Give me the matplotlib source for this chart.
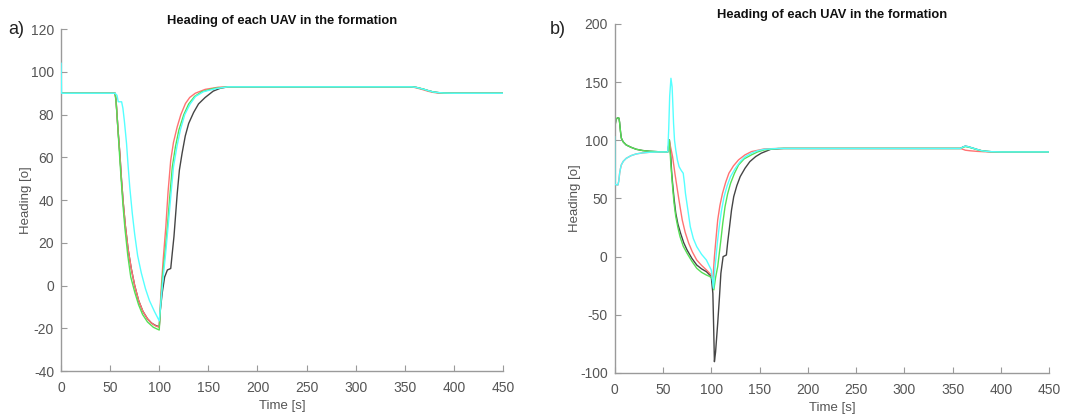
import numpy as np
import matplotlib
matplotlib.use("Agg")
import matplotlib.pyplot as plt

plt.rcParams['font.family'] = ['Liberation Sans', 'DejaVu Sans']
plt.rcParams['axes.unicode_minus'] = False

# ---- panel a) data (time [s], heading [deg])
tail_t_a = [357, 362, 369, 374, 379, 384, 389.5, 400, 450]
tail_h_a = [93, 92.7, 91.9, 91.2, 90.6, 90.3, 90.1, 90, 90]

ta_black = [0, 55, 56, 56.7, 58, 60, 61.5, 63.3, 65.5, 68.3, 71.5, 75, 79, 83.3, 88, 92, 96, 100,
            101, 103, 105.5, 108.3, 111.7, 113, 115, 118.3, 120.5, 123.3, 126.5, 130, 135, 140,
            146.7, 155, 162, 170] + tail_t_a
ha_black = [90, 90, 87, 82, 73, 61, 50, 39, 28, 17, 8, 0, -7, -12, -15.5, -17.5, -18.6, -19.3,
            -12, -3.5, 4, 7.3, 8, 14, 23, 43, 54, 62, 70, 75.9, 81, 85,
            88, 91, 92.3, 93] + tail_h_a

ta_red = [0, 55, 56, 56.7, 58, 60, 61.5, 63.3, 65.5, 68.3, 71.5, 75, 79, 83.3, 88, 92, 96, 100,
          101.7, 104, 106.7, 109, 111.7, 114.5, 118.3, 122, 126.7, 131, 136.7, 146.7, 160, 170] + tail_t_a
ha_red = [90, 90, 87, 82, 73, 61, 50, 39, 28, 17, 8, 0, -7, -12, -15.5, -17.5, -18.8, -19.5,
          -3.5, 12, 27.5, 44, 58.7, 67, 74.3, 80, 85.2, 88, 90, 91.8, 92.8, 93] + [93, 92.5, 91.6, 90.9, 90.4, 90.1, 90, 90, 90]

ta_green = [0, 55, 56, 57, 58.5, 60, 61.5, 63, 65, 68, 71, 75, 79, 83, 88, 94, 100,
            101.5, 103.3, 105.8, 108.3, 110.8, 113.3, 116.5, 120, 125, 130, 136, 143.3, 155, 170] + tail_t_a
ha_green = [90, 90, 86, 80, 69, 58, 48, 38, 27, 14, 4, -3, -9, -13.5, -17, -19.5, -20.8,
            -8, 4, 15, 27.5, 42, 55.5, 65, 72.8, 80, 85, 88.5, 90.7, 92.2, 93] + tail_h_a

ta_cyan = [0, 0.5, 55, 57, 58.3, 61.7, 63, 64.5, 66.7, 68.3, 70, 72.5, 75, 78, 81.7, 86, 90, 95, 100,
           102, 104, 106.5, 109, 111.8, 114.5, 118, 121.5, 126, 131.5, 137, 145, 158, 170] + tail_t_a
ha_cyan = [104, 90, 90, 89, 86, 86, 83, 77, 66.5, 56, 46, 34, 24, 14, 6, -1.5, -7, -12, -16.5,
           -6, 4, 15, 27.5, 42, 55.5, 65, 72.8, 80, 85, 88.5, 90.7, 92.2, 93] + tail_h_a

# ---- panel b) data
up_t = [0, 0.7, 1.5, 3, 4.5, 5.2, 6, 6.9, 8, 9, 12, 17, 22.3, 29, 36, 45]
up_h = [106, 114, 118, 119.3, 119, 115, 108, 102, 100, 98.5, 96, 94, 92.3, 91.2, 90.6, 90.2]
low_t = [3.4, 4.3, 5.2, 6, 6.9, 9, 12, 17, 22.3, 29, 36, 45]
low_h = [61.6, 65, 71.7, 75.5, 78.8, 82, 84.5, 86.8, 88.3, 89.2, 89.7, 90]
bump_t = [358, 360.5, 363, 366, 370, 375, 380, 385, 390, 400, 450]
bump_h = [93, 94.2, 95, 94.5, 93.5, 92.2, 91, 90.5, 90.2, 90, 90]

tb_black = up_t + [55, 56.7, 58, 59, 60, 61.5, 63.3, 65.5, 68.3, 71.5, 75, 80, 85, 90, 95, 100,
                   101.7, 102.5, 103.3, 104.5, 106.7, 108.5, 110, 112.3, 115.7, 117, 119, 121, 123.3,
                   126.5, 130, 135, 140, 146, 151.7, 161.7, 175] + bump_t
hb_black = up_h + [90, 100.3, 88, 73, 63, 50, 37.3, 28, 20, 12, 5.7, -1.5, -7.2, -10.5, -12.9, -17,
                   -31.5, -60, -90.3, -82, -57.3, -35, -14.3, 0, 1.4, 12, 25.8, 40, 51.6,
                   61, 68.8, 76, 81.7, 86, 88.9, 92.3, 93] + bump_h

tb_green = up_t + [55, 56.7, 58, 60, 61.5, 63.3, 65.5, 67.7, 71, 75, 80, 85, 90, 95, 98.3, 101,
                   102.7, 104.5, 106.7, 110, 112, 114.3, 117, 120, 124, 128.3, 134, 141.7, 148,
                   155, 170] + bump_t
hb_green = up_h + [90, 100, 82, 60, 46, 34.4, 25, 17.2, 9, 2.9, -4, -10, -13.5, -15.8, -17, -18.6,
                   -28.6, -18, -8.6, 14.3, 29, 43, 54, 63, 71.5, 78.8, 84, 87.5, 90,
                   91.8, 93] + [93, 94, 94.6, 94.2, 93.3, 92, 91, 90.5, 90.2, 90, 90]

tb_red = [0] + low_t + [55, 56.7, 58, 60, 62.5, 65, 67.5, 70, 73, 76.7, 80.5, 85, 90, 95, 100,
                        101.7, 102.5, 103.3, 105, 106.7, 109, 111.7, 115, 118.3, 123, 128.3, 135,
                        141.7, 155, 170, 358, 360.5, 363, 368, 375, 382, 390, 450]
hb_red = [62] + low_h + [90, 99, 94, 85.9, 71, 57.3, 44, 31.5, 21, 11.5, 4, -2.9, -7.5, -11.4, -15.7,
                         -20, -10, 0, 16, 31.5, 44, 54.5, 64, 71.7, 78, 83.2, 87.5,
                         90.3, 92.6, 93, 93, 92.3, 91.5, 91, 90.5, 90.2, 90, 90]

tb_cyan = [0, 0.3] + low_t + [55, 56, 57, 58.3, 59.5, 60.3, 61, 62, 63.3, 65, 66.7, 69, 71, 72.3, 73.3,
                              75.5, 78.3, 81.5, 85, 90, 95, 100, 101.3, 102.3, 103.5, 105, 106.5, 108.3,
                              110.5, 113.3, 116.5, 120, 125, 130, 135, 141.7, 148, 155, 170] + bump_t
hb_cyan = [103, 62] + low_h + [90, 110, 138, 153.3, 146, 130, 114.6, 100, 91.7, 83, 77.4, 74, 71.7, 63, 54.5,
                               42, 25.8, 15.5, 8.6, 2, -2.9, -11.4, -20, -27.2, -13, 0, 13, 25.8,
                               39, 51.6, 61, 68.8, 76, 81.7, 85.8, 88.9, 91, 92.3, 93] + bump_h

xticks = np.arange(0, 451, 50)
title = 'Heading of each UAV in the formation'

colors = {'black': '#454545', 'red': '#ff7272', 'green': '#55e055', 'cyan': '#55ffff'}
grey = '#555555'

fig = plt.figure(figsize=(10.84, 4.16), dpi=100)
ax_a = fig.add_axes([0.0563, 0.108, 0.4077, 0.822])
ax_b = fig.add_axes([0.567, 0.1034, 0.401, 0.839])

panels = [
    (ax_a, [(ta_black, ha_black, 'black'), (ta_red, ha_red, 'red'),
            (ta_green, ha_green, 'green'), (ta_cyan, ha_cyan, 'cyan')],
     (-40, 120), np.arange(-40, 121, 20)),
    (ax_b, [(tb_black, hb_black, 'black'), (tb_red, hb_red, 'red'),
            (tb_green, hb_green, 'green'), (tb_cyan, hb_cyan, 'cyan')],
     (-100, 200), np.arange(-100, 201, 50)),
]

for ax, series, ylim, yticks in panels:
    for t, h, c in series:
        ax.plot(t, h, color=colors[c], lw=1.0, zorder=3 if c == 'cyan' else 2)
    ax.set_xlim(0, 450)
    ax.set_ylim(*ylim)
    ax.set_xticks(xticks)
    ax.set_yticks(yticks)
    ax.spines['top'].set_visible(False)
    ax.spines['right'].set_visible(False)
    for s in ('left', 'bottom'):
        ax.spines[s].set_color('#9a9a9a')
        ax.spines[s].set_linewidth(1.0)
    ax.tick_params(direction='in', length=4, color='#9a9a9a', labelcolor=grey,
                   labelsize=10)
    ax.tick_params(axis='x', pad=7)
    ax.tick_params(axis='y', pad=5)
    ax.set_xlabel('Time [s]', color=grey, fontsize=9.5, labelpad=4)
    ax.set_ylabel('Heading [o]', color=grey, fontsize=9.5, labelpad=-1)
    ax.set_title(title, fontsize=9.3, fontweight='bold', color='#111111', pad=4)

fig.text(0.0075, 0.928, 'a)', fontsize=13, color='#222222', va='center')
fig.text(0.507, 0.93, 'b)', fontsize=13, color='#222222', va='center')

fig.savefig('out.png', dpi=100)
